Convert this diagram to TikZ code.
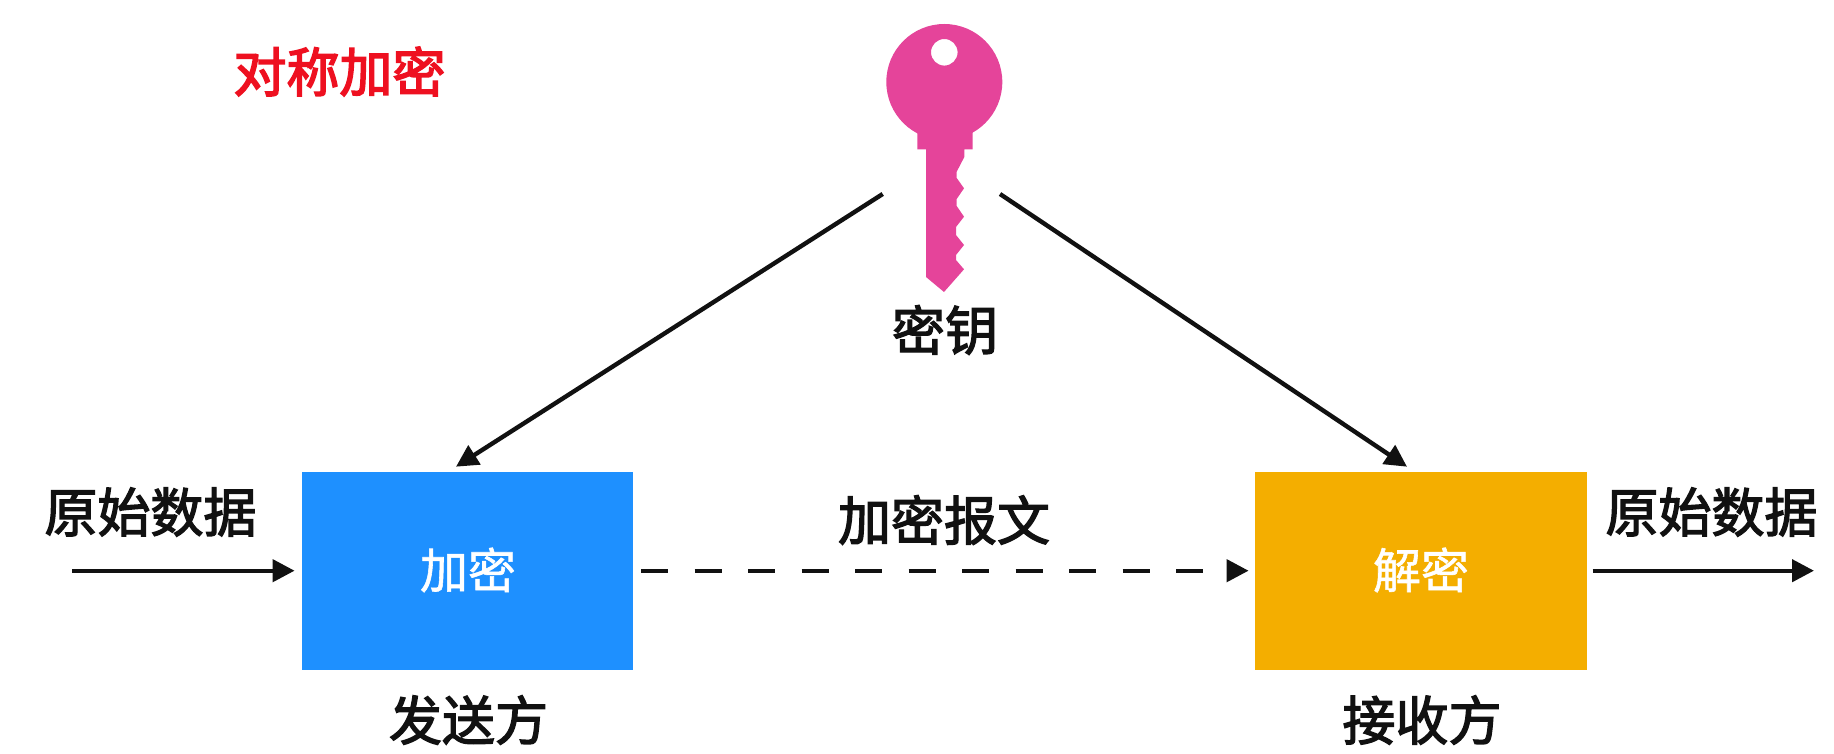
\documentclass[tikz,border=0pt]{standalone}
\usepackage{fontspec}
\usetikzlibrary{arrows.meta,calc}
\newfontfamily\cjk[FakeBold=2.5]{Noto Sans CJK SC}
\newfontfamily\cjkreg[FakeBold=1.2]{Noto Sans CJK SC}
\newfontfamily\cjktitle[FakeBold=3]{Noto Sans CJK SC}
\definecolor{keypink}{HTML}{E5449A}
\definecolor{encblue}{HTML}{1E90FF}
\definecolor{decorange}{HTML}{F4AE00}
\definecolor{titlered}{HTML}{EE1020}
\definecolor{ink}{HTML}{111111}
\tikzset{
  x=1pt,y=-1pt,
  lbl/.style={inner sep=0pt,text=ink,font=\fontsize{53}{53}\selectfont\cjk},
  boxlbl/.style={inner sep=0pt,text=white,font=\fontsize{48}{48}\selectfont\cjkreg},
  titlelbl/.style={inner sep=0pt,text=titlered,font=\fontsize{53}{53}\selectfont\cjktitle},
  procbox/.style={draw=none,inner sep=0pt,minimum width=331.5pt,minimum height=198pt},
  conn/.style={draw=ink,line width=4.4pt,-{Triangle[length=22pt,width=22pt]}},
  connd/.style={conn,dash pattern=on 27pt off 26.5pt},
}
\begin{document}
\begin{tikzpicture}
\useasboundingbox (0,0) rectangle (1834,754);
\fill[white] (0,0) rectangle (1834,754);
% key
\fill[keypink,even odd rule] (944.3,82) circle[radius=58] (944.3,52.3) circle[radius=13.3];
\fill[keypink] (917.3,125) -- (972.7,125) -- (972.7,149.3) -- (964.3,149.3) -- (964.3,157) -- (956.7,171.7) -- (956.7,178) -- (964,188.3) -- (956.7,199) -- (956.7,206) -- (964,216.7) -- (956,227) -- (956,235) -- (964,245) -- (956,255) -- (956,260) -- (964,269.3) -- (944,292) -- (926,277) -- (926,149.3) -- (917.3,149.3) -- cycle;
% boxes
\node[procbox,fill=encblue] (enc) at (467.7,571) {};
\node[procbox,fill=decorange] (dec) at (1421.2,571) {};
\node[boxlbl] (enclbl) at (468,570) {加密};
\node[boxlbl] (declbl) at (1421,570) {解密};
% labels
\node[titlelbl] (title) at (339.5,71.5) {对称加密};
\node[lbl] (keylbl) at (945,330) {密钥};
\node[lbl] (srcl) at (150.5,512) {原始数据};
\node[lbl] (srcr) at (1711.5,512) {原始数据};
\node[lbl] (msg) at (944,520) {加密报文};
\node[lbl] (sender) at (468.5,720) {发送方};
\node[lbl] (recv) at (1422,720) {接收方};
% connector ends
\coordinate (keyL) at (882.7,194);
\coordinate (keyR) at (1000,194);
\coordinate (encIn) at (456,466.7);
\coordinate (decIn) at (1407,466.7);
\coordinate (inStart) at (72,570.7);
\coordinate (outEnd) at (1814,570.7);
\coordinate (encOut) at (641,570.7);
\coordinate (decTip) at (1248.6,570.7);
\coordinate (encTip) at (294.6,570.7);
\coordinate (decOut) at (1592.7,570.7);
\draw[conn] (keyL) -- (encIn);
\draw[conn] (keyR) -- (decIn);
\draw[conn] (inStart) -- (encTip);
\draw[connd] (encOut) -- (decTip);
\draw[conn] (decOut) -- (outEnd);
\end{tikzpicture}
\end{document}
